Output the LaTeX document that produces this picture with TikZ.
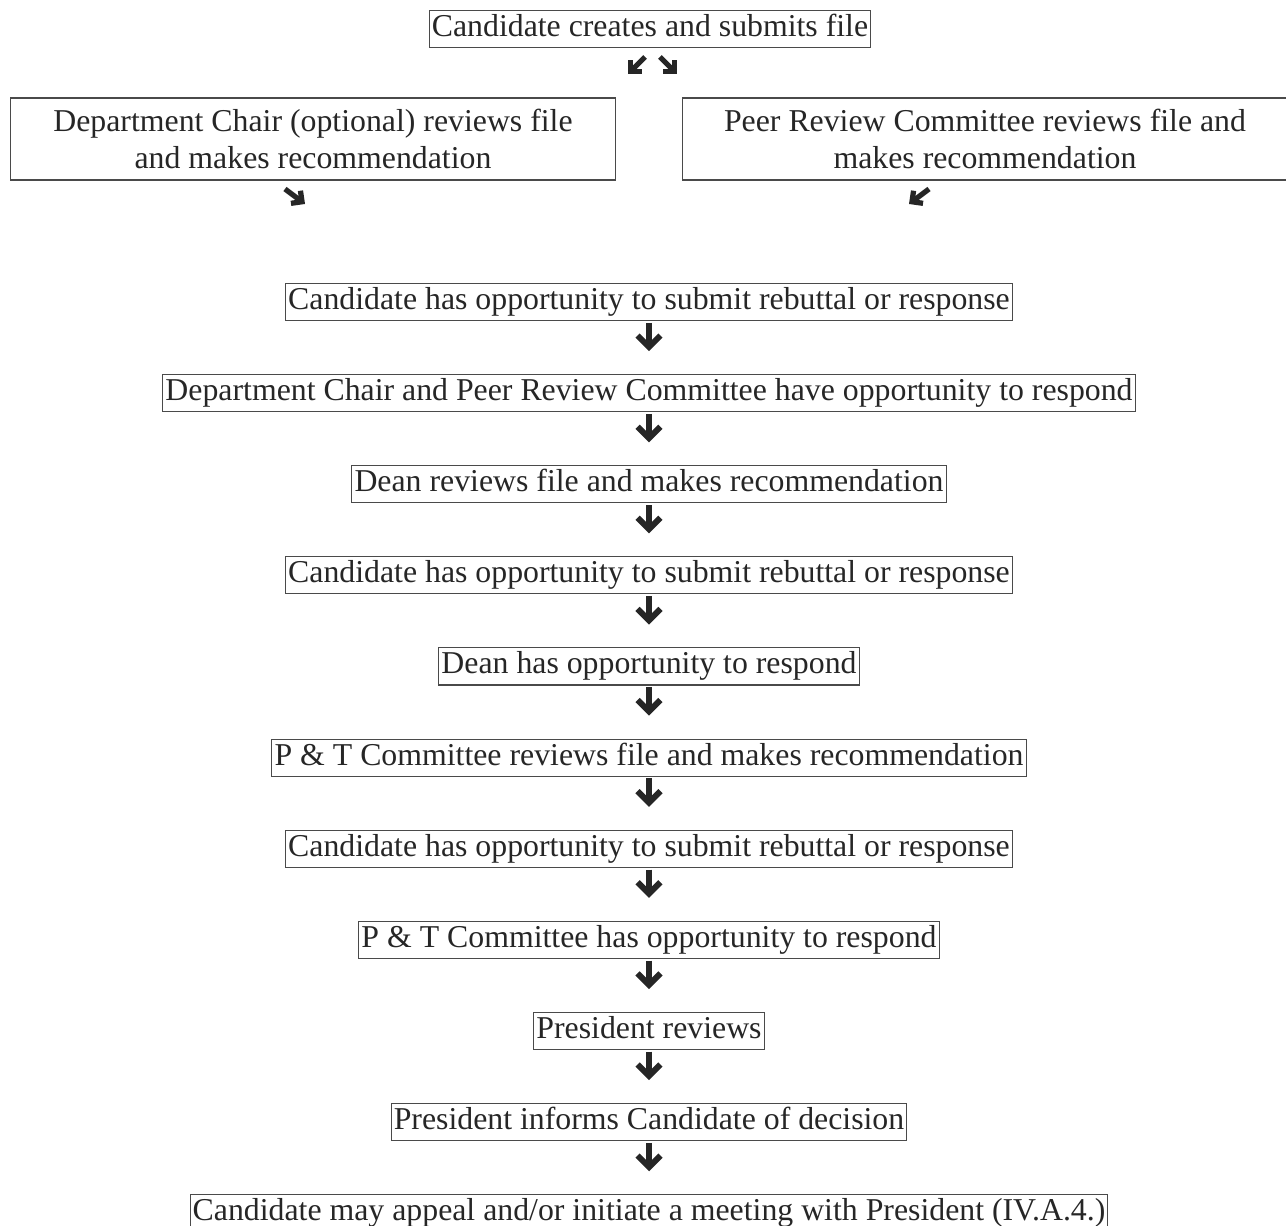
\documentclass[tikz,border=0pt]{standalone}
\usepackage{fontspec}
\setmainfont{Liberation Serif}
\usetikzlibrary{arrows.meta,positioning}
\definecolor{pline}{HTML}{4A4A4A}
\definecolor{parrow}{HTML}{262626}
\tikzset{
  pfont/.style={font=\fontsize{18.1}{21}\selectfont, text=black!85},
  pbox/.style={pfont, draw=pline, line width=0.6pt, inner xsep=1.5pt, inner ysep=1.8pt,
               text height=13pt, text depth=4.5pt},
  pwide/.style={pfont, draw=pline, line width=0.6pt, align=center,
                minimum width=12.12cm, minimum height=1.64cm, inner sep=1pt},
  pdown/.style={-{Straight Barb[length=6.5pt,width=13pt,line width=3.4pt]}, parrow,
                line width=3.4pt, shorten <=1pt, shorten >=13pt},
  pdiag/.style={-{Straight Barb[length=4.5pt,width=9pt,line width=3pt]}, parrow,
                line width=3pt},
}

\begin{document}
\begin{tikzpicture}[x=0.02cm,y=-0.02cm, node distance=1.06cm]
  \useasboundingbox (0,0) rectangle (1286,1226);

  % file submission and first reviews
  \node[pbox] (sub) at (650,29) {Candidate creates and submits file};
  \node[pwide] (chair) at (313,139) {Department Chair (optional) reviews file\\and makes recommendation};
  \node[pwide] (peer) at (985,139) {Peer Review Committee reviews file and\\makes recommendation};

  \coordinate (ta) at (645,57);  \coordinate (tb) at (628,74);
  \coordinate (tc) at (660,57);  \coordinate (td) at (677,74);
  \coordinate (ca) at (285,189); \coordinate (cb) at (305,204);
  \coordinate (pa) at (929,189); \coordinate (pb) at (909,204);
  \draw[pdiag] (ta) -- (tb);
  \draw[pdiag] (tc) -- (td);
  \draw[pdiag] (ca) -- (cb);
  \draw[pdiag] (pa) -- (pb);

  % review chain
  \node[pbox] (s1) at (649,302) {Candidate has opportunity to submit rebuttal or response};
  \node[pbox, below=of s1] (s2) {Department Chair and Peer Review Committee have opportunity to respond};
  \node[pbox, below=of s2] (s3) {Dean reviews file and makes recommendation};
  \node[pbox, below=of s3] (s4) {Candidate has opportunity to submit rebuttal or response};
  \node[pbox, below=of s4] (s5) {Dean has opportunity to respond};
  \node[pbox, below=of s5] (s6) {P \& T Committee reviews file and makes recommendation};
  \node[pbox, below=of s6] (s7) {Candidate has opportunity to submit rebuttal or response};
  \node[pbox, below=of s7] (s8) {P \& T Committee has opportunity to respond};
  \node[pbox, below=of s8] (s9) {President reviews};
  \node[pbox, below=of s9] (s10) {President informs Candidate of decision};
  \node[pbox, below=of s10] (s11) {Candidate may appeal and/or initiate a meeting with President (IV.A.4.)};

  \foreach \a/\b in {s1/s2,s2/s3,s3/s4,s4/s5,s5/s6,s6/s7,s7/s8,s8/s9,s9/s10,s10/s11}
    \draw[pdown] (\a.south) -- (\b.north);

\end{tikzpicture}
\end{document}
